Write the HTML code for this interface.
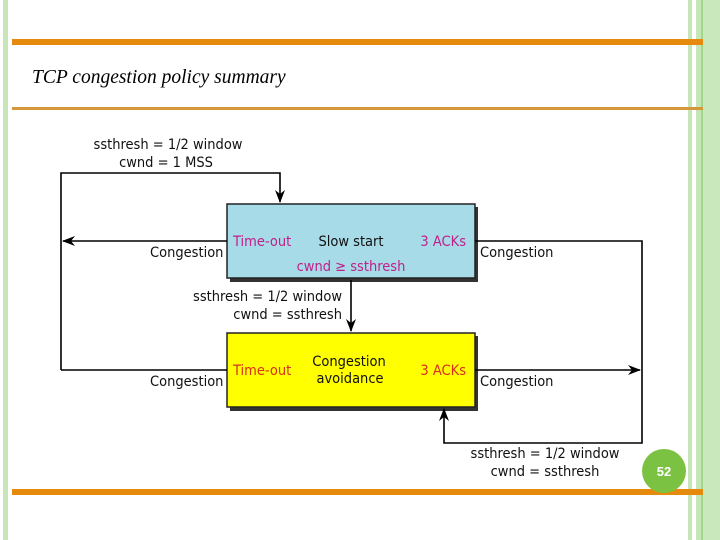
<!DOCTYPE html>
<html><head><meta charset="utf-8"><style>
html,body{margin:0;padding:0;background:#fff;}
body{width:720px;height:540px;overflow:hidden;position:relative;}
</style></head><body>
<svg width="720" height="540" viewBox="0 0 720 540" xmlns="http://www.w3.org/2000/svg" style="position:absolute;left:0;top:0">
<defs><marker id="a" markerWidth="13" markerHeight="10" refX="12" refY="5" orient="auto" markerUnits="userSpaceOnUse"><path d="M0,0 L13,5 L0,10 L4,5 z" fill="#000"/></marker></defs>
<rect x="3" y="0" width="5" height="540" fill="#c6e6b8"/>
<rect x="688" y="0" width="4" height="540" fill="#c6e6b8"/>
<rect x="696" y="0" width="5" height="540" fill="#c6e6b8"/>
<rect x="701" y="0" width="2" height="540" fill="#9fd88a"/>
<rect x="703" y="0" width="17" height="540" fill="#c9e8bc"/>
<rect x="12" y="39" width="691" height="6" fill="#e68a0e"/>
<rect x="12" y="107" width="691" height="3" fill="#d6963a"/>
<rect x="12" y="489" width="691" height="6" fill="#e68a0e"/>
<text x="32" y="83" font-family="Liberation Serif, serif" font-style="italic" font-size="19.5" fill="#000">TCP congestion policy summary</text>
<rect x="230" y="207" width="248" height="75" fill="#333"/>
<rect x="227" y="204" width="248" height="74" fill="#a7dbe8" stroke="#222" stroke-width="1.5"/>
<rect x="230" y="336" width="248" height="75" fill="#333"/>
<rect x="227" y="333" width="248" height="74" fill="#ffff00" stroke="#222" stroke-width="1.5"/>
<g stroke="#000" stroke-width="1.6" fill="none">
<polyline points="61,370 61,173 280,173 280,202" marker-end="url(#a)"/>
<line x1="227" y1="241" x2="63" y2="241" marker-end="url(#a)"/>
<line x1="61" y1="370" x2="227" y2="370"/>
<line x1="351" y1="280" x2="351" y2="331" marker-end="url(#a)"/>
<polyline points="475,241 642,241 642,443 444,443 444,409" marker-end="url(#a)"/>
<line x1="475" y1="370" x2="640" y2="370" marker-end="url(#a)"/>
</g>
<g font-family="DejaVu Sans Condensed, DejaVu Sans, sans-serif" font-size="14.5" fill="#111">
<text x="168" y="149" text-anchor="middle">ssthresh = 1/2 window</text>
<text x="166" y="167" text-anchor="middle">cwnd = 1 MSS</text>
<text x="150" y="257">Congestion</text>
<text x="150" y="386">Congestion</text>
<text x="480" y="257">Congestion</text>
<text x="480" y="386">Congestion</text>
<text x="342" y="301" text-anchor="end">ssthresh = 1/2 window</text>
<text x="342" y="319" text-anchor="end">cwnd = ssthresh</text>
<text x="545" y="458" text-anchor="middle">ssthresh = 1/2 window</text>
<text x="545" y="476" text-anchor="middle">cwnd = ssthresh</text>
<text x="351" y="246" text-anchor="middle">Slow start</text>
<text x="349" y="366" text-anchor="middle">Congestion</text>
<text x="350" y="383" text-anchor="middle">avoidance</text>
<text x="233" y="246" fill="#c0208a">Time-out</text>
<text x="466" y="246" fill="#c0208a" text-anchor="end">3 ACKs</text>
<text x="351" y="271" fill="#c0208a" text-anchor="middle">cwnd ≥ ssthresh</text>
<text x="233" y="375" fill="#d8301a">Time-out</text>
<text x="466" y="375" fill="#d8301a" text-anchor="end">3 ACKs</text>
</g>
<circle cx="664" cy="471" r="22" fill="#7cc242"/>
<text x="664" y="476" text-anchor="middle" font-family="Liberation Sans, sans-serif" font-size="13" font-weight="bold" fill="#fff">52</text>
</svg>
</body></html>
